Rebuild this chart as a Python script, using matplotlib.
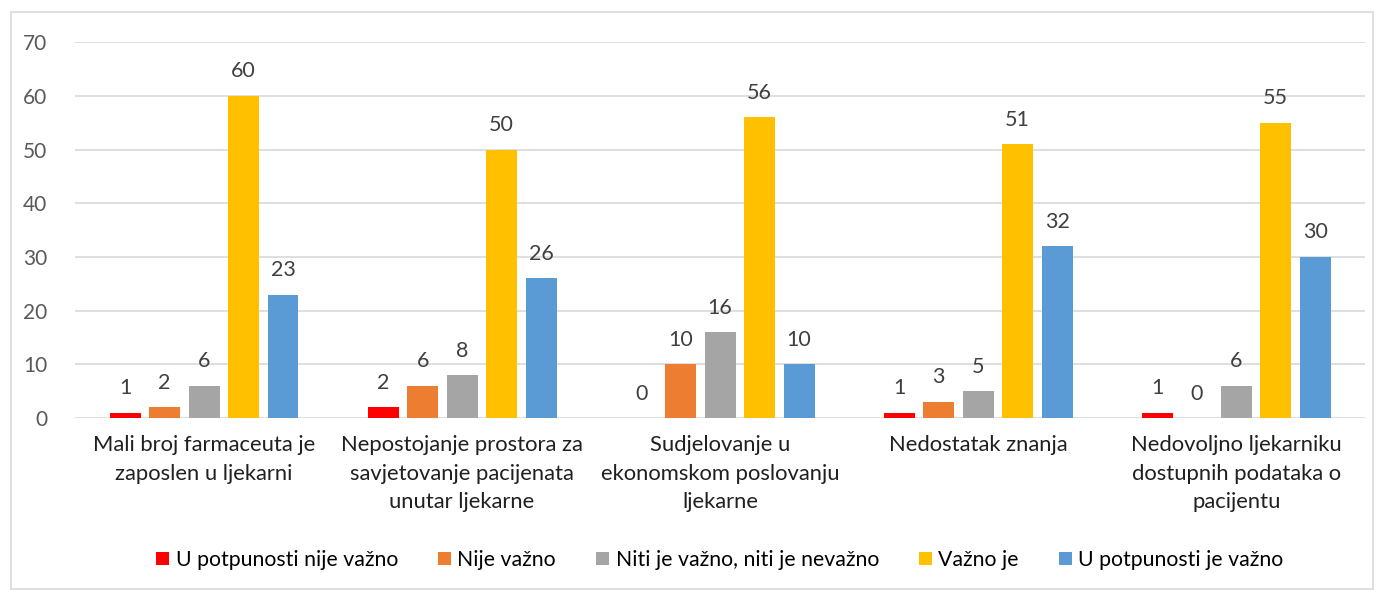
import matplotlib.pyplot as plt
import numpy as np
from matplotlib.patches import Rectangle

plt.rcParams["font.family"] = ["Lato", "DejaVu Sans"]

categories = [
    "Mali broj farmaceuta je\nzaposlen u ljekarni",
    "Nepostojanje prostora za\nsavjetovanje pacijenata\nunutar ljekarne",
    "Sudjelovanje u\nekonomskom poslovanju\nljekarne",
    "Nedostatak znanja",
    "Nedovoljno ljekarniku\ndostupnih podataka o\npacijentu",
]
series_names = [
    "U potpunosti nije važno",
    "Nije važno",
    "Niti je važno, niti je nevažno",
    "Važno je",
    "U potpunosti je važno",
]
nije_uopce = [1, 2, 0, 1, 1]
nije = [2, 6, 10, 3, 0]
niti = [6, 8, 16, 5, 6]
vazno = [60, 50, 56, 51, 55]
potpuno = [23, 26, 10, 32, 30]
colors = ["#FF0000", "#ED7D31", "#A5A5A5", "#FFC000", "#5B9BD5"]

series = [nije_uopce, nije, niti, vazno, potpuno]

fig = plt.figure(figsize=(13.79, 5.93), dpi=100)
fig.patches.append(Rectangle((0.008, 0.006), 0.988, 0.974, transform=fig.transFigure,
                             fill=False, edgecolor="#D9D9D9", linewidth=1.2))
ax = fig.add_axes([0.0544, 0.295, 0.9356, 0.634])

x = np.arange(len(categories))
width = 0.12
step = 0.153
for i, (vals, col, name) in enumerate(zip(series, colors, series_names)):
    pos = x + (i - 2) * step
    ax.bar(pos, vals, width, color=col, label=name, zorder=3)
    for xp, v in zip(pos, vals):
        ax.text(xp, v + 2.7, str(v), ha="center", va="bottom", fontsize=15.5, color="#404040")

ax.set_xlim(-0.5, len(categories) - 0.5)
ax.set_ylim(0, 70)
ax.set_yticks(range(0, 71, 10))
ax.yaxis.grid(True, color="#D9D9D9", linewidth=1.2, zorder=0)
for s in ax.spines.values():
    s.set_visible(False)
ax.tick_params(axis="both", length=0)
ax.tick_params(axis="y", labelsize=15, labelcolor="#595959", pad=20)
ax.set_xticks(x)
ax.set_xticklabels(categories, fontsize=15.8, color="#202020", linespacing=1.55)
ax.tick_params(axis="x", pad=12)

ax.legend(loc="center", bbox_to_anchor=(0.5, -0.378), ncol=5, frameon=False,
          fontsize=15.3, handlelength=0.6, handleheight=0.6, handletextpad=0.3,
          columnspacing=1.9)

fig.savefig("out.png", dpi=100)
